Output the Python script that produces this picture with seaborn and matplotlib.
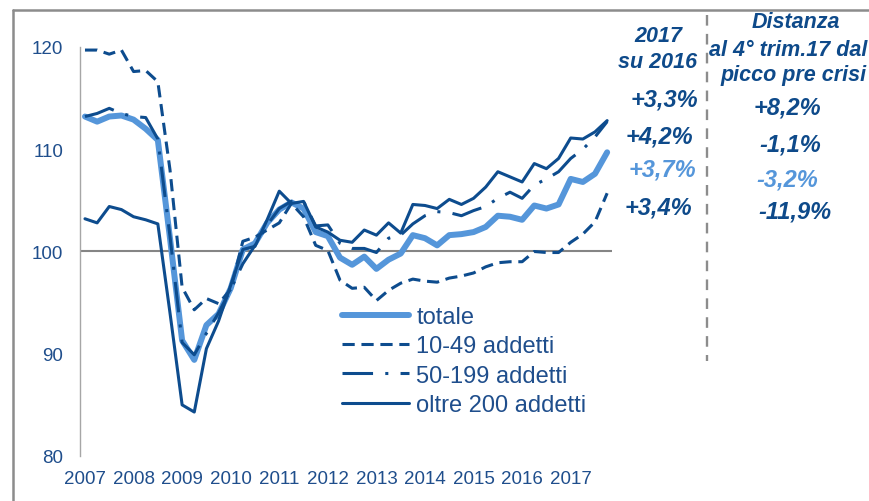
import numpy as np
import pandas as pd
import matplotlib
matplotlib.use("Agg")
import matplotlib.pyplot as plt
import seaborn as sns
from matplotlib.lines import Line2D

# ---- data (quarterly index, 2007Q1 .. 2017Q4) ----
years = ["2007", "2008", "2009", "2010", "2011", "2012",
         "2013", "2014", "2015", "2016", "2017"]
quarters = list(range(44))

totale = [113.2, 112.7, 113.2, 113.3, 112.9, 112.0, 110.9, 101.3, 91.3, 89.4, 92.8,
          93.9, 96.4, 100.2, 100.8, 102.8, 104.1, 104.8, 104.2, 101.9, 101.5, 99.4,
          98.7, 99.5, 98.3, 99.2, 99.8, 101.6, 101.3, 100.6, 101.6, 101.7, 101.9,
          102.4, 103.5, 103.4, 103.1, 104.5, 104.2, 104.6, 107.1, 106.8, 107.6, 109.7]
add_10_49 = [119.7, 119.7, 119.3, 119.7, 117.6, 117.7, 116.6, 108.0, 96.5, 94.3, 95.4,
             94.9, 96.3, 101.0, 101.4, 102.1, 102.8, 104.7, 103.4, 100.6, 100.1, 97.2,
             96.4, 96.5, 95.2, 96.2, 96.9, 97.3, 97.1, 97.0, 97.4, 97.6, 97.9,
             98.5, 98.9, 99.0, 99.0, 100.0, 99.9, 99.9, 100.9, 101.7, 102.9, 105.7]
add_50_199 = [113.2, 113.5, 114.0, 113.5, 113.2, 113.1, 111.0, 101.5, 91.1, 89.9, 92.0,
              94.0, 96.3, 98.8, 100.6, 102.6, 104.2, 104.9, 104.9, 102.5, 102.6, 100.8,
              100.3, 100.3, 99.9, 101.3, 101.6, 102.7, 103.5, 103.9, 103.8, 103.5, 104.0,
              104.4, 105.2, 105.8, 105.2, 106.5, 107.1, 107.8, 109.1, 110.0, 111.2, 112.7]
oltre_200 = [103.2, 102.8, 104.4, 104.1, 103.4, 103.1, 102.7, 94.0, 85.0, 84.3, 90.5,
             93.2, 96.7, 100.2, 100.5, 103.1, 105.9, 104.7, 104.9, 102.4, 101.9, 101.1,
             100.9, 102.1, 101.6, 102.8, 101.8, 104.6, 104.5, 104.2, 105.1, 104.6, 105.2,
             106.3, 107.8, 107.3, 106.8, 108.6, 108.1, 109.1, 111.1, 111.0, 111.7, 112.8]

labels = ["totale", "10-49 addetti", "50-199 addetti", "oltre 200 addetti"]
var_2017 = ["+3,3%", "+4,2%", "+3,7%", "+3,4%"]
dist_peak = ["+8,2%", "-1,1%", "-3,2%", "-11,9%"]

df = pd.DataFrame({"q": quarters, "totale": totale, "10-49 addetti": add_10_49,
                   "50-199 addetti": add_50_199, "oltre 200 addetti": oltre_200})

DARK = "#0D4C8E"
LIGHT = "#5596DA"
GRAY = "#8C8C8C"
TXT = "#1F4E8C"

sns.set_theme(style="white")
plt.rcParams["font.family"] = ["Liberation Sans", "DejaVu Sans"]

W, H = 869, 502
fig = plt.figure(figsize=(W / 100, H / 100), dpi=100)
ax = fig.add_axes([80 / W, 1 - 457 / H, (612 - 80) / W, (457 - 48) / H])

def px(x, y):
    return x / W, 1 - y / H

# series
sns.lineplot(data=df, x="q", y="totale", ax=ax, color=LIGHT, lw=4.3,
             solid_capstyle="round", solid_joinstyle="round", label="totale")
sns.lineplot(data=df, x="q", y="10-49 addetti", ax=ax, color=DARK, lw=2.2,
             label="10-49 addetti")
sns.lineplot(data=df, x="q", y="50-199 addetti", ax=ax, color=DARK, lw=2.2,
             label="50-199 addetti")
sns.lineplot(data=df, x="q", y="oltre 200 addetti", ax=ax, color=DARK, lw=2.2,
             label="oltre 200 addetti")
lines = ax.get_lines()
lines[1].set_dashes([4.0, 2.2])
lines[2].set_dashes([10.0, 4.0, 1.0, 4.0])
for ln in lines[1:]:
    ln.set_dash_capstyle("butt")

ax.axhline(100, color="#858585", lw=1.5, zorder=0.5)

ax.set_xlim(-0.41, 43.4)
ax.set_ylim(80, 120)
ax.set_xticks(range(0, 44, 4))
ax.set_xticklabels(years)
ax.set_yticks([80, 90, 100, 110, 120])
ax.set_xlabel("")
ax.set_ylabel("")
ax.tick_params(axis="both", length=0, labelsize=13.5, labelcolor=TXT)
ax.tick_params(axis="y", pad=12)
ax.tick_params(axis="x", pad=10)
for s in ["top", "right", "bottom"]:
    ax.spines[s].set_visible(False)
ax.spines["left"].set_color("#A6A6A6")
ax.spines["left"].set_linewidth(1.0)
ax.grid(False)

leg = ax.legend(handles=lines, labels=labels, frameon=False, fontsize=17,
                loc="upper left", bbox_to_anchor=px(342, 307),
                bbox_transform=fig.transFigure, borderpad=0, borderaxespad=0,
                handlelength=2.85, handletextpad=0.3, labelspacing=0.31)
for t in leg.get_texts():
    t.set_color(TXT)

# frame
fig.add_artist(Line2D([12.5 / W, 12.5 / W], [0, 1 - 10.5 / H], color=GRAY, lw=1.8,
                      transform=fig.transFigure))
fig.add_artist(Line2D([12.5 / W, 1], [1 - 10.5 / H, 1 - 10.5 / H], color=GRAY, lw=1.8,
                      transform=fig.transFigure))

# dashed separator
fig.add_artist(Line2D([707 / W, 707 / W], [1 - 16 / H, 1 - 362 / H], color=GRAY,
                      lw=1.7, dashes=(4.5, 3.5), transform=fig.transFigure))

bi = dict(fontweight="bold", fontstyle="italic")
HC = "#0E4A8A"
fig.text(*px(658, 37), "2017", ha="center", va="center", fontsize=15.5, color=HC, **bi)
fig.text(*px(658, 63), "su 2016", ha="center", va="center", fontsize=15.5, color=HC, **bi)
fig.text(*px(796, 23), "Distanza", ha="center", va="center", fontsize=15.5, color=HC, **bi)
fig.text(*px(867, 50), "al 4° trim.17 dal", ha="right", va="center", fontsize=15.5, color=HC, **bi)
fig.text(*px(867, 76), "picco pre crisi", ha="right", va="center", fontsize=15.5, color=HC, **bi)

row_y = [100, 137, 170, 208]
row_right = [698, 693, 696, 692]
dist_y = [108, 145, 180, 212]
dist_x = [787, 790, 787, 795]
cols = [HC, HC, LIGHT, HC]
for v, d, ry, rr, dy, dx, c in zip(var_2017, dist_peak, row_y, row_right, dist_y, dist_x, cols):
    fig.text(*px(rr, ry), v, ha="right", va="center", fontsize=17, color=c, **bi)
    fig.text(*px(dx, dy), d, ha="center", va="center", fontsize=17, color=c, **bi)

fig.savefig("out.png", dpi=100)
